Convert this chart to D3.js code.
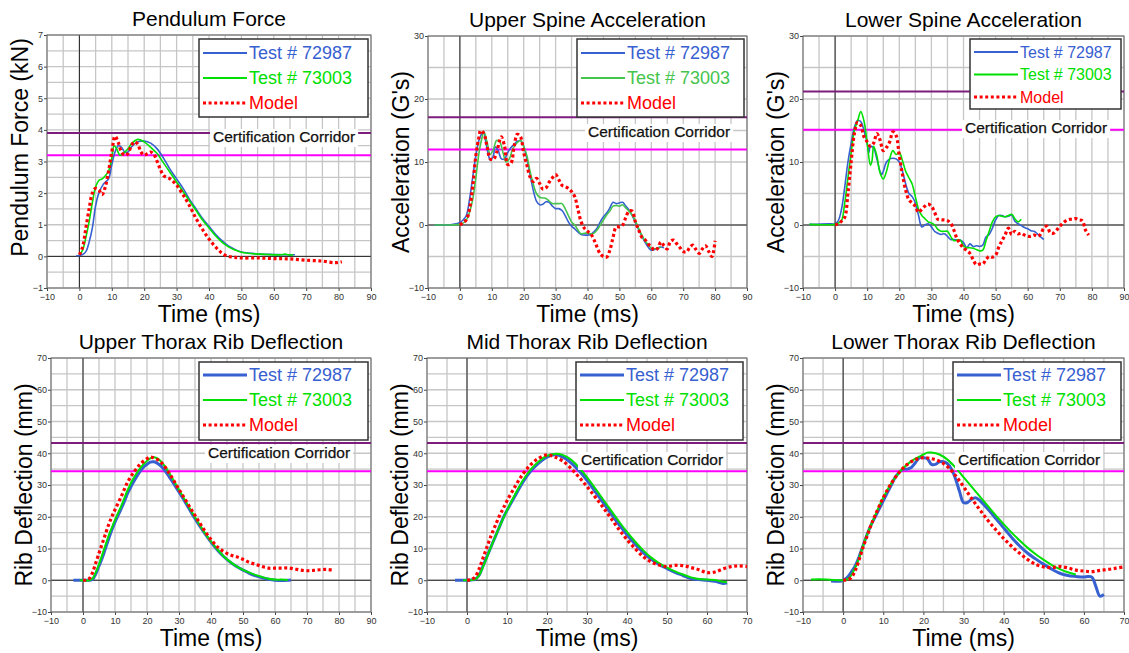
<!DOCTYPE html>
<html>
<head>
<meta charset="utf-8">
<script src="https://cdn.jsdelivr.net/npm/d3@7"></script>
<style>
  body { margin: 0; background: #fff; }
  svg { display: block; font-family: "Liberation Sans", Arial, sans-serif; }
</style>
</head>
<body>
<svg id="chart" width="1129" height="653"></svg>
<script>
// series names shown in every legend
const SERIES = ['Test # 72987', 'Test # 73003', 'Model'];

// Pendulum force (kN) vs time (ms)
const pendA = [[-1,0.02],[0,0.03],[1,0.06],[2,0.15],[3,0.45],[4,0.9],[5,1.6],[6,2.0],[7.5,2.3],[9,2.45],[10,2.9],[11,3.3],[12,3.5],[13,3.45],[14,3.3],[15,3.3],[16,3.45],[18,3.62],[20,3.65],[22,3.58],[24,3.4],[26,3.1],[28,2.75],[30,2.45],[32,2.15],[34,1.8],[36,1.5],[38,1.2],[40,0.95],[42,0.7],[44,0.5],[46,0.33],[48,0.22],[50,0.14],[53,0.1],[56,0.07],[60,0.06],[64,0.05],[66.5,0.05]];
const pendB = [[0,0.05],[1,0.2],[2,0.6],[3,1.1],[4,1.7],[5,2.2],[6,2.4],[7,2.45],[8,2.55],[9,2.7],[10,3.1],[10.7,3.5],[11.5,3.4],[12.5,3.2],[13.5,3.25],[15,3.4],[16,3.55],[18,3.7],[20,3.62],[22,3.45],[24,3.25],[26,2.95],[28,2.65],[30,2.35],[32,2.05],[34,1.75],[36,1.45],[38,1.15],[40,0.9],[42,0.65],[44,0.45],[46,0.3],[48,0.2],[50,0.13],[54,0.08],[58,0.06],[62,0.05],[63.5,0.07],[65,0.04],[66,0.05]];
const pendM = [[0,0.05],[1,0.3],[2,0.9],[3,1.5],[4,2.0],[5,2.15],[6,2.1],[7,1.95],[8,2.2],[9,2.7],[10,3.3],[11,3.8],[12,3.6],[13,3.3],[14,3.2],[15,3.25],[16,3.5],[17,3.62],[18,3.55],[19,3.3],[20,3.2],[21,3.25],[22,3.3],[23,3.22],[24,3.0],[25,2.75],[26,2.55],[28,2.45],[30,2.25],[32,1.95],[34,1.6],[36,1.2],[38,0.85],[40,0.55],[42,0.3],[44,0.1],[46,0.0],[48,-0.03],[50,-0.05],[55,-0.05],[60,-0.07],[65,-0.08],[70,-0.12],[75,-0.15],[79,-0.2],[81,-0.17]];

// Upper spine acceleration (G's)
const uspA = [[-8,0],[-3,0.05],[0,0.4],[1,0.8],[2,1.5],[3,4],[4,7.5],[5,11],[6,13.5],[7,14.6],[7.5,14.8],[8,13.5],[9,11],[9.5,10.3],[10.5,11],[11,12.4],[12,11.8],[13,10.5],[14,10.5],[15,11.5],[16,12.3],[17,12.8],[18,13.3],[19,13.4],[20,12.5],[21,10.5],[22,8],[23,5.5],[24,3.8],[25,3.2],[26,3.3],[27,3.7],[28,3.6],[29,3.0],[30,2.6],[31,2.6],[32,2.3],[33,1.5],[34,0.5],[35,-0.2],[36,-0.6],[37,-1.1],[38,-1.5],[40,-1.6],[41,-1.5],[42,-1.1],[43,-0.5],[44,0.5],[45,1.3],[46,1.9],[47,2.7],[48,3.6],[49,3.4],[50,3.5],[51,3.6],[52,3.0],[53,2.4],[54,1.5],[55,0.5],[56,-0.7],[57,-1.7],[58,-2.7],[59,-3.5],[60,-4],[61,-3.9],[62,-3.6],[63,-3.5],[64,-3.6]];
const uspB = [[-8,0],[0,0.1],[1,0.3],[2,0.8],[3,2],[4,4],[5,7.5],[6,11.5],[7,14],[7.5,14.8],[8.5,13.2],[9.5,11.2],[10.5,12],[11.5,13.4],[12.5,13.2],[13.5,11.5],[14.5,10],[15.5,10.5],[16.5,12],[18,13.1],[19,13.4],[20,12.5],[21,11],[22,8.5],[23,6.5],[24,5],[25,4.4],[26,4.3],[27,4.2],[28,3.8],[29,3.4],[30,3.4],[31,3.4],[32,3.4],[33,2.6],[34,1.5],[35,0.5],[36,0],[37,-0.8],[38,-1.4],[39,-1.3],[40,-1.3],[41,-1.4],[42,-1.3],[43,-0.8],[44,0],[45,0.8],[46,1.6],[47,2.2],[48,3.0],[49,3.1],[50,3.0],[51,3.2],[52,2.7],[53,2.2],[54,1.6],[55,0.7],[56,-0.5],[57,-1.6],[58,-2.5],[59,-3.1],[60,-3.7],[61,-3.8],[62,-3.7],[63,-3.5]];
const uspM = [[0,0],[1,0.4],[2,0.8],[3,2.5],[4,6],[5,11],[6,14],[6.5,15],[7.5,14.5],[8.5,12.5],[9.5,10.5],[10.5,10.4],[11.5,11.5],[12.5,13.5],[13,14],[14,12.5],[15,9.6],[16,9.8],[17,12.5],[18,14.4],[19,14],[20,11.5],[21,9.5],[22,7.6],[23,6.9],[24,7.4],[25,6.6],[26,5.7],[27,5.9],[28,6.8],[29,7.5],[30,8.0],[31,7.2],[32,6.3],[33,6.1],[34,5.8],[35,5.3],[36,4.5],[37,2.5],[38,0.5],[39,-0.5],[40,-1.0],[41,-1.4],[42,-2.3],[43,-3.5],[44,-4.6],[45,-5.0],[46,-5.1],[47,-4.0],[48,-2.0],[49,-0.3],[50,-0.3],[51,0.0],[52,1.2],[53,2.2],[54,2.2],[55,0.5],[56,-0.7],[57,-1.9],[58,-2.3],[59,-3.0],[60,-3.5],[61,-4.0],[62,-3.7],[63,-2.7],[64,-3.3],[65,-3.8],[66,-2.6],[67,-2.4],[68,-3.0],[69,-3.6],[70,-4.2],[71,-4.3],[72,-3.6],[73,-3.2],[74,-3.9],[75,-4.5],[76,-3.8],[77,-3.3],[78,-4.2],[79,-5.0],[80,-2.5]];

// Lower spine acceleration (G's)
const lspA = [[-8,0.1],[-2,0.2],[0,0.2],[1,0.7],[2,2.5],[3,6],[4,10],[5,13],[6,15.5],[7,16.6],[8,16.4],[9,15],[10,13],[10.5,11.5],[11,12.5],[12,12.2],[13,10.5],[14,8.5],[14.5,8],[15,8.5],[16,10],[17,10.5],[18,10.6],[19,10.5],[20,10],[21,8.5],[22,6.5],[23,5],[24,4.5],[25,3.5],[26,1.5],[27,-0.3],[28,0],[29,0.2],[30,-0.3],[31,-1.0],[32,-1.3],[33,-1.5],[34,-1.4],[35,-1.8],[36,-2.3],[37,-2.3],[38,-2.4],[39,-2.4],[40,-2.8],[41,-3.6],[42,-3.0],[43,-3.4],[44,-3.3],[45,-3.4],[46,-3.2],[47,-1.9],[48,-1.5],[49,-0.5],[50,0.8],[51,1.5],[52,1.5],[53,1.3],[54,1.4],[55,1.6],[56,0.6],[57,0.2],[58,-0.1],[59,-0.4],[60,-0.6],[61,-0.9],[62,-1.0],[63,-1.4],[64,-1.9],[65,-2.3]];
const lspB = [[-8,0.1],[0,0.1],[1,0.3],[2,0.7],[3,3.5],[4,7.5],[5,11.5],[6,15],[7,16.5],[8,18],[9,16.5],[10,13],[11,9.5],[11.5,10.2],[12,12.5],[13,11],[14,8.3],[15,7.3],[16,8.5],[17,10.5],[18,11.8],[19,11.2],[20,11.5],[21,10.2],[22,8.5],[23,7.5],[24,6.5],[25,4.5],[26,2.5],[27,1.5],[28,1.0],[29,0.5],[30,0.3],[31,0.0],[32,-0.7],[33,-1.0],[34,-1.0],[35,-1.0],[36,-1.8],[37,-2.5],[38,-2.4],[39,-2.4],[40,-3.3],[41,-3.6],[42,-3.6],[43,-3.7],[44,-3.9],[45,-4.1],[46,-4.0],[47,-2.5],[48,-1.0],[49,0.5],[50,1.3],[51,1.5],[52,1.4],[53,1.3],[54,1.5],[55,1.7],[56,1.0],[57,0.5],[58,0.9]];
const lspM = [[0,0],[1,0.2],[2,0.6],[3,1.2],[4,5],[5,10],[6,14.5],[7,16.3],[8,15.8],[9,14],[10,13.2],[11,12.5],[12,13],[13,14.5],[14,13.5],[15,11.8],[16,12.3],[17,13.2],[18,14.8],[19,14.2],[20,11],[21,8],[22,5.5],[23,4.0],[24,3.5],[25,3.0],[26,2.0],[27,2.5],[28,3.0],[29,3.3],[30,3.0],[31,2.0],[32,0.9],[33,0.8],[34,0.8],[35,0.7],[36,0.3],[37,-0.8],[38,-2.2],[39,-3.0],[40,-3.7],[41,-4.0],[42,-4.5],[43,-5.5],[44,-6.3],[45,-6.2],[46,-6.2],[47,-5.5],[48,-5.0],[49,-5.1],[50,-4.8],[51,-3.5],[52,-2.5],[53,-1.5],[54,-0.5],[55,-1.5],[56,-1.0],[57,-1.4],[58,-1.3],[59,-1.6],[60,-1.8],[61,-1.8],[62,-1.6],[63,-1.8],[64,-1.5],[65,-0.5],[66,-0.2],[67,-1.2],[68,-1.3],[69,-0.8],[70,-0.2],[71,0.3],[72,0.7],[73,0.9],[74,0.9],[75,1.0],[76,0.8],[77,0.7],[78,-0.8],[79,-1.6]];

// Upper thorax rib deflection (mm)
const utrA = [[-3,0],[0,0],[2,0],[3,0.3],[4,2],[5,4.5],[6,7],[7,10],[8,13],[9,15.8],[10,18.3],[11,20.5],[12,22.7],[13,25],[14,27.5],[15,29.5],[16,31.3],[17,33],[18,34.5],[19,35.7],[20,36.5],[21,37.2],[22,37.3],[23,37],[24,36.3],[25,35.3],[26,34],[27,32.5],[28,31],[30,27.8],[32,24.5],[34,21],[36,17.8],[38,14.8],[40,12],[42,9.5],[44,7.4],[46,5.7],[48,4.3],[50,3.2],[52,2.2],[54,1.4],[56,0.8],[58,0.3],[60,0],[62,-0.1],[64,0],[65,0.1]];
const utrB = [[-1,0],[2,0],[3,0.5],[4,2.5],[5,5],[6,8],[7,11],[8,14],[9,16.5],[10,19],[12,23.5],[14,28.5],[16,32.5],[18,35.5],[20,37.6],[21,38.4],[22,38.7],[23,38.5],[24,37.8],[26,35.3],[28,32],[30,28.5],[32,25],[34,21.5],[36,18.2],[38,15],[40,12.2],[42,9.7],[44,7.5],[46,5.8],[48,4.4],[50,3.3],[52,2.4],[54,1.6],[56,1.0],[58,0.5],[60,0.2],[62,0.2],[64,0.1]];
const utrM = [[0,0],[1,0.1],[2,0.6],[3,2.5],[4,5.5],[5,8.5],[6,11.5],[7,14.5],[8,17.5],[9,20],[10,22.2],[12,26.5],[14,31],[16,34.2],[18,36.7],[20,38.3],[21,38.8],[22,38.6],[24,37.5],[26,35.2],[28,32],[30,28.6],[32,25.3],[34,22],[36,18.8],[38,15.6],[40,12.8],[42,10.5],[44,9],[46,8],[48,7.4],[50,6.6],[52,5.6],[54,5],[56,4.3],[58,3.8],[60,3.8],[62,3.8],[64,3.9],[66,3.6],[68,3.2],[70,3.0],[72,3.1],[74,3.3],[76,3.4],[78,3.2]];

// Mid thorax rib deflection (mm)
const mtrA = [[-3,0],[0,0],[1,0.1],[2,0.3],[3,1.5],[4,4.5],[5,7.5],[6,10.5],[7,13.5],[8,16.5],[9,19.5],[10,22],[12,26.5],[14,31],[16,34.5],[18,37],[20,38.8],[22,39.5],[24,38.8],[26,37],[28,34.5],[30,31.5],[32,28],[34,24.5],[36,21],[38,17.5],[40,14.3],[42,11.4],[44,8.8],[46,6.7],[48,5],[50,3.7],[52,2.5],[54,1.5],[56,0.5],[58,0.2],[60,0],[62,-0.3],[64,-1],[65,-0.8]];
const mtrB = [[-1,0],[2,0.3],[3,1.5],[4,4.2],[5,7.3],[6,10.5],[8,16.5],[10,22],[12,27],[14,31.5],[16,35],[18,37.5],[20,39.2],[22,39.8],[24,39.4],[26,38],[28,35.5],[30,32.5],[32,29],[34,25.5],[36,22],[38,18.5],[40,15.2],[42,12.2],[44,9.5],[46,7.2],[48,5.4],[50,4],[52,2.8],[54,1.8],[56,0.9],[58,0.4],[60,0.2],[62,0.1],[64,-0.5],[65,-0.6]];
const mtrM = [[0,0],[1,0.2],[2,1],[3,3.5],[4,7],[5,10.5],[6,14],[7,17],[8,20],[9,22.5],[10,25],[12,29.5],[14,33.5],[16,36.5],[18,38.5],[20,39.5],[21,39.3],[22,38.8],[24,37.5],[26,35.2],[28,32.5],[30,29.5],[32,26.3],[34,23],[36,19.5],[38,16],[40,12.8],[42,10],[44,7.5],[46,5.8],[48,4.8],[50,4.3],[52,4.7],[54,4.6],[56,4],[58,3.3],[60,2.4],[62,2.6],[64,3.6],[66,4.3],[68,4.5],[70,4.3]];

// Lower thorax rib deflection (mm)
const ltrA = [[-3,-0.2],[-1,-0.3],[0,0],[1,0.8],[2,2.5],[3,4.5],[4,7.5],[5,11],[6,14.5],[7,17.5],[8,20],[9,22.5],[10,25],[11,27.5],[12,30],[13,32.5],[14,34],[15,35],[16,35],[17,35.5],[18,37],[19,38.5],[20,38.6],[21,38.3],[22,36.5],[23,36.5],[24,37.3],[25,37.3],[26,36.7],[27,35],[28,32],[29,28],[30,24.5],[31,24.5],[32,25.5],[33,26],[34,25.2],[36,22.5],[38,19.5],[40,16.5],[42,13.5],[44,10.8],[46,8.5],[48,6.7],[50,5.0],[52,3.5],[54,2.2],[56,1.5],[58,1.2],[60,1.0],[61,1.2],[62,1.0],[63,-2],[64,-5],[65,-4.5]];
const ltrB = [[-8,0.2],[-6,0.3],[-2,0.1],[0,0],[1,0.3],[2,1.5],[3,4],[4,7],[5,11],[6,14.5],[7,17.5],[8,20.5],[10,26],[12,30.5],[14,34],[16,36.5],[18,38.3],[20,39.6],[21,40.2],[22,40.2],[24,39.6],[26,38],[28,35.5],[30,32.5],[32,29.5],[34,26.5],[36,23.5],[38,20.5],[40,17.7],[42,15],[44,12.5],[46,10.2],[48,8.2],[50,6.4],[52,4.8],[54,3.5],[56,2.5],[58,1.8]];
const ltrM = [[0,0],[1,0.2],[2,0.8],[3,3],[4,6.5],[5,10.5],[6,14],[7,17.5],[8,20.5],[10,26],[12,30.5],[14,34],[16,36.5],[18,38],[20,38.6],[22,38.3],[24,37.5],[26,35.8],[28,33],[30,29.5],[32,25.8],[34,22.3],[36,19],[38,16],[40,13.2],[42,10.7],[44,8.5],[46,6.5],[48,5.0],[50,4.2],[52,4.0],[54,4.3],[56,3.9],[58,3.2],[60,2.9],[62,2.7],[64,3.1],[66,3.4],[68,3.8],[70,4.2]];

// certification corridor limits [upper, lower] for each panel
const corridors = [[3.9, 3.2], [17.1, 12], [21.2, 15.1], [43.2, 34.3], [43.2, 34.3], [43.2, 34.3]];

const titles = ['Pendulum Force', 'Upper Spine Acceleration', 'Lower Spine Acceleration',
  'Upper Thorax Rib Deflection', 'Mid Thorax Rib Deflection', 'Lower Thorax Rib Deflection'];
const yLabels = ['Pendulum Force (kN)', "Acceleration (G's)", "Acceleration (G's)",
  'Rib Deflection (mm)', 'Rib Deflection (mm)', 'Rib Deflection (mm)'];

const BLUE = '#3760d0', GREEN = '#00e000', GREEN2 = '#44c44c', RED = '#ff0000';
const PURPLE = '#7d1e7d', MAGENTA = '#ff00ff';

// layout: plot rect [left, top, right, bottom], legend box, corridor label pos
const panels = [
  { data: [pendA, pendB, pendM], xd: [-10, 90], yd: [-1, 7], ystep: 1, rect: [47, 35, 371, 288],
    leg: [199, 39, 169, 78, 18, 14, 25], cc: [213, 137], green: GREEN, wide: false, ylShift: -14 },
  { data: [uspA, uspB, uspM], xd: [-10, 90], yd: [-10, 30], ystep: 10, rect: [428, 36, 747, 288],
    leg: [577, 39, 167, 78, 18, 14, 25], cc: [588, 132], green: GREEN2, wide: false, ylShift: 0 },
  { data: [lspA, lspB, lspM], xd: [-10, 90], yd: [-10, 30], ystep: 10, rect: [803, 36, 1124, 288],
    leg: [970, 39, 151, 70, 16, 13, 22.5], cc: [965, 128], green: GREEN, wide: false, ylShift: 0 },
  { data: [utrA, utrB, utrM], xd: [-10, 90], yd: [-10, 70], ystep: 10, rect: [51, 358, 371, 612],
    leg: [199, 362, 169, 78, 18, 13, 25], cc: [208, 453], green: GREEN, wide: true, ylShift: 0 },
  { data: [mtrA, mtrB, mtrM], xd: [-10, 70], yd: [-10, 70], ystep: 10, rect: [427, 358, 747, 612],
    leg: [576, 362, 167, 78, 18, 13, 25], cc: [581, 460], green: GREEN, wide: true, ylShift: 0 },
  { data: [ltrA, ltrB, ltrM], xd: [-10, 70], yd: [-10, 70], ystep: 10, rect: [803, 358, 1124, 612],
    leg: [953, 362, 168, 78, 18, 13, 25], cc: [958, 460], green: GREEN, wide: true, ylShift: 0 }
];

const svg = d3.select('#chart');

panels.forEach(function(p, i) {
  const [L, T, R, B] = p.rect;
  const x = d3.scaleLinear().domain(p.xd).range([L, R]);
  const y = d3.scaleLinear().domain(p.yd).range([B, T]);
  const g = svg.append('g');

  // grid every half step
  const xg = d3.range(p.xd[0], p.xd[1] + 0.01, 5);
  const yg = d3.range(p.yd[0], p.yd[1] + 0.001, p.ystep / 2);
  g.selectAll('.gx').data(xg).enter().append('line')
    .attr('x1', d => x(d)).attr('x2', d => x(d)).attr('y1', T).attr('y2', B)
    .attr('stroke', '#c6c6c6').attr('stroke-width', 1.3);
  g.selectAll('.gy').data(yg).enter().append('line')
    .attr('x1', L).attr('x2', R).attr('y1', d => y(d)).attr('y2', d => y(d))
    .attr('stroke', '#c6c6c6').attr('stroke-width', 1.3);

  // zero lines
  g.append('line').attr('x1', x(0)).attr('x2', x(0)).attr('y1', T).attr('y2', B)
    .attr('stroke', '#222').attr('stroke-width', 1);
  g.append('line').attr('x1', L).attr('x2', R).attr('y1', y(0)).attr('y2', y(0))
    .attr('stroke', '#222').attr('stroke-width', 1);

  // axes
  const xa = g.append('g').attr('transform', 'translate(0,' + B + ')')
    .call(d3.axisBottom(x).tickValues(d3.range(p.xd[0], p.xd[1] + 0.01, 10)).tickSize(3).tickFormat(d3.format('d')));
  const ya = g.append('g').attr('transform', 'translate(' + L + ',0)')
    .call(d3.axisLeft(y).tickValues(d3.range(p.yd[0], p.yd[1] + 0.001, p.ystep)).tickSize(3).tickFormat(d3.format('d')));
  [xa, ya].forEach(a => {
    a.select('.domain').remove();
    a.selectAll('line').attr('stroke', '#444');
    a.selectAll('text').attr('font-size', 9).attr('fill', '#333')
      .attr('font-family', '"Liberation Sans", Arial, sans-serif');
  });
  xa.selectAll('text').attr('dy', '0.6em').attr('y', 7);
  ya.selectAll('text').attr('x', -4);

  // frame
  g.append('rect').attr('x', L).attr('y', T).attr('width', R - L).attr('height', B - T)
    .attr('fill', 'none').attr('stroke', '#666').attr('stroke-width', 1);

  // corridor lines
  g.append('line').attr('x1', L).attr('x2', R).attr('y1', y(corridors[i][0])).attr('y2', y(corridors[i][0]))
    .attr('stroke', PURPLE).attr('stroke-width', 2);
  g.append('line').attr('x1', L).attr('x2', R).attr('y1', y(corridors[i][1])).attr('y2', y(corridors[i][1]))
    .attr('stroke', MAGENTA).attr('stroke-width', 2);

  // curves
  const line = d3.line().x(d => x(d[0])).y(d => y(d[1])).curve(d3.curveCatmullRom.alpha(0.5));
  const styles = [
    { c: BLUE, w: p.wide ? 3 : 1.6, dash: null },
    { c: p.green, w: p.wide ? 2 : 1.6, dash: null },
    { c: RED, w: 3.2, dash: '3,2.6' }
  ];
  p.data.forEach((s, k) => {
    g.append('path').attr('d', line(s)).attr('fill', 'none')
      .attr('stroke', styles[k].c).attr('stroke-width', styles[k].w)
      .attr('stroke-dasharray', styles[k].dash);
  });

  // certification corridor label on white background
  const cc = g.append('text').attr('x', p.cc[0]).attr('y', p.cc[1]).attr('dy', '0.35em')
    .attr('font-size', 15.5).attr('fill', '#111').attr('stroke', '#111').attr('stroke-width', 0.25)
    .text('Certification Corridor');
  const bb = cc.node().getBBox();
  g.insert('rect', function() { return cc.node(); })
    .attr('x', bb.x - 3).attr('y', p.cc[1] - 8).attr('width', bb.width + 6).attr('height', 18)
    .attr('fill', '#fff');

  // legend
  const [lx, ly, lw, lh, fs, r0, gap] = p.leg;
  g.append('rect').attr('x', lx).attr('y', ly).attr('width', lw).attr('height', lh)
    .attr('fill', '#fff').attr('stroke', '#333').attr('stroke-width', 1.5);
  SERIES.forEach((name, k) => {
    const yy = ly + r0 + k * gap;
    g.append('line').attr('x1', lx + 4).attr('x2', lx + 48).attr('y1', yy).attr('y2', yy)
      .attr('stroke', styles[k].c).attr('stroke-width', k === 2 ? 3.2 : Math.max(styles[k].w, 1.8))
      .attr('stroke-dasharray', styles[k].dash);
    g.append('text').attr('x', lx + 50).attr('y', yy).attr('dy', '0.36em')
      .attr('font-size', fs).attr('fill', k === 0 ? BLUE : k === 1 ? p.green : RED).text(name);
  });

  // titles and axis labels
  g.append('text').attr('x', (L + R) / 2).attr('y', T - 9).attr('text-anchor', 'middle')
    .attr('font-size', 21).attr('fill', '#000').text(titles[i]);
  g.append('text').attr('x', (L + R) / 2).attr('y', B + 34).attr('text-anchor', 'middle')
    .attr('font-size', 23).attr('fill', '#000').text('Time (ms)');
  g.append('text').attr('transform', 'translate(' + (L - 19) + ',' + ((T + B) / 2 + p.ylShift) + ')rotate(-90)')
    .attr('text-anchor', 'middle').attr('font-size', 23).attr('fill', '#000').text(yLabels[i]);
});
</script>
</body>
</html>
